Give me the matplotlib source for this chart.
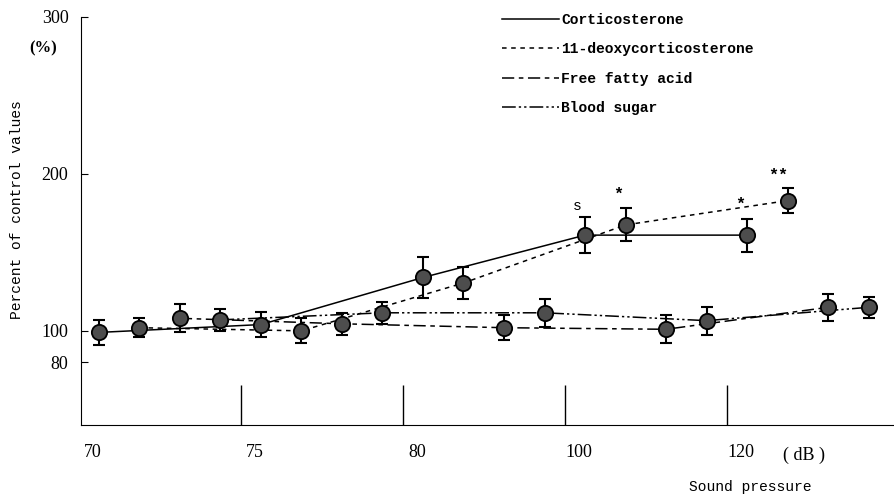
"""Sound pressure vs. percent of control values (4 series, grouped by dB)."""

import numpy as np
import matplotlib.pyplot as plt

plt.rcParams['font.family'] = ['Liberation Mono', 'DejaVu Sans Mono']
NUMFONT = 'Liberation Serif'

# data
levels = ['70', '75', '80', '100', '120']
series = ['Corticosterone', '11-deoxycorticosterone', 'Free fatty acid', 'Blood sugar']
cortico = [99, 104, 134, 161, 161]
cortico_err = [8, 8, 13, 11.5, 10.5]
doc = [102, 100, 130.5, 167.5, 183]
doc_err = [6, 8, 10.5, 10.5, 8]
ffa = [108, 104.5, 102, 101, 115]
ffa_err = [9, 7, 8, 9, 8.5]
sugar = [107, 111.5, 111.5, 106.5, 115]
sugar_err = [7, 7, 9, 9, 6.5]
# significance marks: (series index, level index, text)
marks = [(0, 3, 's'), (1, 3, '*'), (0, 4, '*'), (1, 4, '**')]

values = [cortico, doc, ffa, sugar]
errors = [cortico_err, doc_err, ffa_err, sugar_err]
styles = ['-', (0, (3, 3)), (0, (8, 3, 3, 3)), (0, (9, 2, 1.5, 2, 1.5, 2))]
mark_offsets = {'s': (-6, 3), '*': (-5, 5), '**': (-7, 4)}

fig = plt.figure(figsize=(8.95, 4.96), dpi=100)
ax = fig.add_axes([81/895, 1-425/496, 814/895, 408/496])

n = len(levels)
handles = []
for s in range(len(series)):
    xs = np.arange(n)*4 + s
    ax.errorbar(xs, values[s], yerr=errors[s], fmt='none', ecolor='black',
                elinewidth=1.5, capsize=4, capthick=1.5, zorder=3)
    ln, = ax.plot(xs, values[s], color='black', lw=1.1, linestyle=styles[s],
                  label=series[s], zorder=2)
    ax.plot(xs, values[s], 'o', ms=11, mfc='#4d4d4d', mec='black', mew=1.3,
            zorder=4)
    handles.append(ln)

for s, g, txt in marks:
    x = g*4 + s
    y = values[s][g] + errors[s][g]
    ax.annotate(txt, (x, y), xytext=mark_offsets[txt], textcoords='offset points',
                ha='center', va='bottom', fontsize=12 if '*' in txt else 10.5,
                fontweight='bold' if '*' in txt else 'normal')

# group separators
ax.vlines(np.arange(1, n)*4 - 0.5, 40, 65.5, color='black', lw=1)

ax.set_xlim(-0.44, 19.65)
ax.set_ylim(40, 300)
ax.set_xticks(np.arange(n)*4 - 0.15)
ax.set_xticklabels(levels, fontsize=13, family=NUMFONT)
ax.tick_params(axis='x', length=0, pad=14)
ax.set_yticks([80, 100, 200, 300])
ax.set_yticklabels(['80', '100', '200', '300'], fontsize=13, family=NUMFONT)
ax.tick_params(axis='y', direction='in', length=5, pad=9)
ax.spines['top'].set_visible(False)
ax.spines['right'].set_visible(False)

ax.text(-0.03, 280, '(%)', transform=ax.get_yaxis_transform(), ha='right',
        va='center', fontsize=12, family=NUMFONT, fontweight='bold')
ax.set_ylabel('Percent of control values', fontsize=10.5)
ax.yaxis.set_label_coords(-0.07, 0.529)

fig.text(783/895, 1-455/496, '( dB )', ha='left', va='center', fontsize=13,
         family=NUMFONT)
fig.text(750/895, 1-487/496, 'Sound pressure', ha='center', va='center', fontsize=10.5)

fig.legend(handles=handles, loc='upper left', bbox_to_anchor=(489/895, 1.0),
           frameon=False, handlelength=3.9, handletextpad=0.15, labelspacing=1.05,
           prop={'size': 10.5, 'weight': 'bold'})

fig.savefig('out.png', dpi=100)
